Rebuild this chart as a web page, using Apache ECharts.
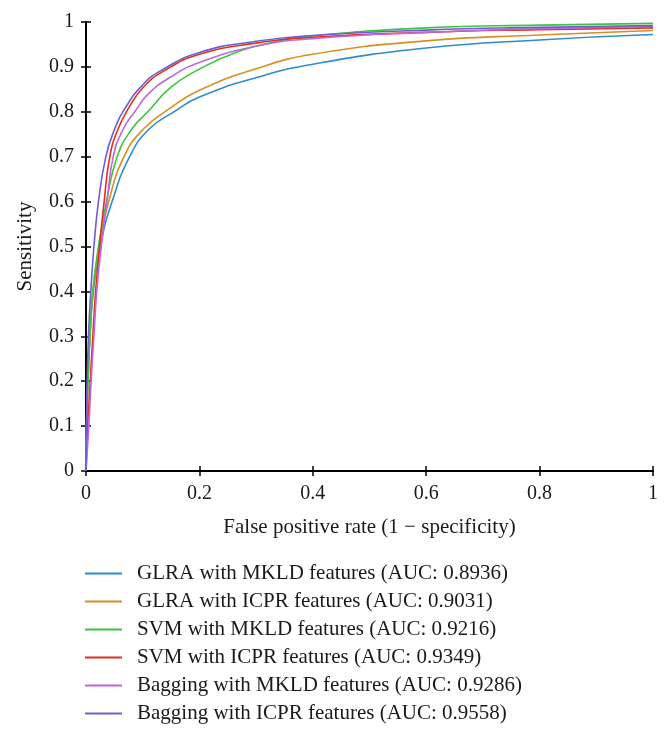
<!DOCTYPE html>
<html>
<head>
<meta charset="utf-8">
<script src="https://cdn.jsdelivr.net/npm/echarts@6/dist/echarts.min.js"></script>
<style>
  html, body { margin: 0; padding: 0; background: #fff; }
  #chart { width: 671px; height: 738px; }
</style>
</head>
<body>
<div id="chart"></div>
<script>
// ROC curves, as [false positive rate, sensitivity]
const glraMkld = [[0,0],[0.0015,0.12],[0.004,0.21],[0.007,0.3],[0.013,0.4],[0.025,0.5],[0.046,0.6],[0.077,0.7],[0.11,0.76],[0.155,0.8],[0.2,0.833],[0.3,0.876],[0.4,0.906],[0.6,0.942],[0.8,0.96],[1,0.972]];
const glraIcpr = [[0,0],[0.0015,0.13],[0.004,0.22],[0.007,0.3],[0.012,0.4],[0.023,0.5],[0.04,0.6],[0.067,0.7],[0.1,0.76],[0.146,0.806],[0.2,0.848],[0.3,0.896],[0.4,0.928],[0.6,0.958],[0.8,0.971],[1,0.981]];
const svmMkld = [[0,0],[0.0015,0.13],[0.004,0.22],[0.007,0.3],[0.012,0.4],[0.022,0.5],[0.036,0.6],[0.055,0.7],[0.08,0.76],[0.109,0.8],[0.15,0.855],[0.2,0.895],[0.26,0.93],[0.33,0.955],[0.4,0.969],[0.6,0.987],[0.8,0.993],[1,0.997]];
const svmIcpr = [[0,0],[0.003,0.1],[0.0075,0.2],[0.012,0.3],[0.017,0.4],[0.024,0.5],[0.032,0.6],[0.042,0.7],[0.056,0.76],[0.076,0.81],[0.1,0.853],[0.136,0.89],[0.2,0.928],[0.3,0.953],[0.4,0.966],[0.6,0.977],[0.8,0.983],[1,0.987]];
const bagMkld = [[0,0],[0.005,0.1],[0.009,0.2],[0.014,0.3],[0.019,0.4],[0.027,0.5],[0.037,0.6],[0.048,0.7],[0.065,0.76],[0.086,0.8],[0.11,0.84],[0.15,0.878],[0.2,0.91],[0.3,0.946],[0.4,0.963],[0.6,0.977],[0.8,0.985],[1,0.99]];
const bagIcpr = [[0,0],[0.002,0.2],[0.005,0.32],[0.009,0.41],[0.014,0.5],[0.022,0.6],[0.035,0.7],[0.05,0.76],[0.07,0.81],[0.1,0.86],[0.13,0.89],[0.2,0.932],[0.3,0.957],[0.4,0.97],[0.6,0.982],[0.8,0.988],[1,0.992]];

const seriesNames = [
  'GLRA with MKLD features (AUC: 0.8936)',
  'GLRA with ICPR features (AUC: 0.9031)',
  'SVM with MKLD features (AUC: 0.9216)',
  'SVM with ICPR features (AUC: 0.9349)',
  'Bagging with MKLD features (AUC: 0.9286)',
  'Bagging with ICPR features (AUC: 0.9558)'
];
const seriesData = [glraMkld, glraIcpr, svmMkld, svmIcpr, bagMkld, bagIcpr];
const colors = ['#2b8cd1', '#d9901f', '#3ec43e', '#e0301e', '#c066dd', '#6d5fd0'];

const font = 'Liberation Serif';
const axisLine = { show: true, lineStyle: { color: '#000', width: 2 } };
const tickIn = { show: true, inside: true, length: 5, lineStyle: { color: '#000', width: 1.5 } };

const chart = echarts.init(document.getElementById('chart'));
chart.setOption({
  animation: false,
  color: colors,
  grid: { left: 86, right: 18, top: 22, bottom: 267 },
  legend: {
    orient: 'vertical',
    left: 80,
    top: 558,
    icon: 'rect',
    itemWidth: 37,
    itemHeight: 2,
    itemGap: 7,
    selectedMode: false,
    textStyle: { fontFamily: font, fontSize: 21, lineHeight: 21, color: '#1a1a1a', padding: [0, 0, 0, 10] },
    data: seriesNames
  },
  xAxis: [
    {
      type: 'value', min: 0, max: 1, interval: 0.2,
      name: 'False positive rate (1 \u2212 specificity)',
      nameLocation: 'middle', nameGap: 46,
      nameTextStyle: { fontFamily: font, fontSize: 21, color: '#1a1a1a' },
      axisLine, axisTick: tickIn,
      axisLabel: { fontFamily: font, fontSize: 20, color: '#1a1a1a', margin: 13 },
      splitLine: { show: false }
    },
    {
      type: 'value', position: 'top', min: 0, max: 1, interval: 0.2,
      axisLine, axisTick: tickIn, axisLabel: { show: false }, splitLine: { show: false }
    }
  ],
  yAxis: [
    {
      type: 'value', min: 0, max: 1, interval: 0.1,
      name: 'Sensitivity',
      nameLocation: 'middle', nameGap: 50,
      nameTextStyle: { fontFamily: font, fontSize: 21, color: '#1a1a1a' },
      axisLine, axisTick: tickIn,
      axisLabel: { fontFamily: font, fontSize: 20, color: '#1a1a1a', margin: 12 },
      splitLine: { show: false }
    },
    {
      type: 'value', position: 'right', min: 0, max: 1, interval: 0.1,
      axisLine, axisTick: tickIn, axisLabel: { show: false }, splitLine: { show: false }
    }
  ],
  series: seriesData.map((d, i) => ({
    name: seriesNames[i],
    type: 'line',
    data: d,
    showSymbol: false,
    smooth: 0.5,
    lineStyle: { width: 1.6 },
    z: 2 + i
  }))
});
</script>
</body>
</html>
